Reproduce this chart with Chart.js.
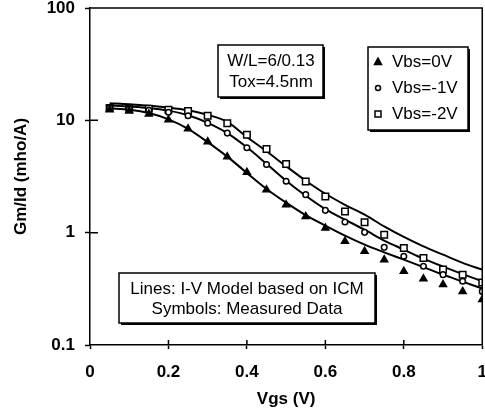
<!DOCTYPE html>
<html>
<head>
<meta charset="utf-8">
<script src="https://cdn.jsdelivr.net/npm/chart.js@4.4.1/dist/chart.umd.min.js"></script>
<style>
  html, body { margin: 0; padding: 0; background: #fff; overflow: hidden; }
  #wrap { width: 500px; height: 412px; }
</style>
</head>
<body>
<div id="wrap"><canvas id="gmChart" width="500" height="412"></canvas></div>
<script>
// Gm/Id vs Vgs for three body biases
const vgs = [0.05, 0.10, 0.15, 0.20, 0.25, 0.30, 0.35, 0.40, 0.45, 0.50,
             0.55, 0.60, 0.65, 0.70, 0.75, 0.80, 0.85, 0.90, 0.95, 1.00];

// measured Gm/Id (mho/A)
const meas0 = [12.4, 12.1, 11.4, 10.1, 8.4, 6.45, 4.73, 3.45, 2.41, 1.77,
               1.39, 1.10, 0.837, 0.682, 0.575, 0.453, 0.388, 0.345, 0.30, 0.254];
const meas1 = [12.9, 12.6, 12.3, 11.8, 11.0, 9.44, 7.7, 5.7, 4.05, 2.87,
               2.18, 1.58, 1.245, 1.006, 0.74, 0.616, 0.502, 0.423, 0.369, 0.30];
const meas2 = [12.9, 12.65, 12.65, 12.4, 12.1, 11.0, 9.44, 7.44, 5.55, 4.08,
               2.86, 2.10, 1.547, 1.235, 0.96, 0.731, 0.596, 0.469, 0.423, 0.36];

// model curves (mho/A)
const model0 = [12.8, 12.4, 11.6, 10.2, 8.4, 6.4, 4.75, 3.4, 2.45, 1.85,
                1.43, 1.154, 0.94, 0.782, 0.668, 0.575, 0.494, 0.423, 0.367, 0.318];
const model1 = [13.6, 13.3, 12.9, 12.2, 11.1, 9.5, 7.7, 5.75, 4.1, 2.9,
                2.13, 1.62, 1.305, 1.063, 0.85, 0.706, 0.587, 0.499, 0.428, 0.369];
const model2 = [14.2, 13.9, 13.5, 13.0, 12.3, 11.2, 9.7, 7.1, 5.3, 3.9,
                2.9, 2.22, 1.77, 1.445, 1.138, 0.916, 0.755, 0.637, 0.538, 0.469];

const xTicks = [0, 0.2, 0.4, 0.6, 0.8, 1];
const yTicks = [0.1, 1, 10, 100];
const seriesNames = ['Vbs=0V', 'Vbs=-1V', 'Vbs=-2V'];
const seriesStyles = ['triangle', 'circle', 'rect'];
const noteDevice = ['W/L=6/0.13', 'Tox=4.5nm'];
const noteKey = ['Lines: I-V Model based on ICM', 'Symbols: Measured Data'];

const FONT = '"Liberation Sans", Arial, Helvetica, sans-serif';

function pts(ys) {
  return vgs.map((x, i) => ({ x: x, y: ys[i] }));
}

function measured(label, ys, style, radius, fill) {
  return {
    label: label,
    data: pts(ys),
    showLine: false,
    pointStyle: style,
    pointRadius: radius,
    pointHoverRadius: radius,
    pointBackgroundColor: fill,
    pointBorderColor: '#000',
    pointBorderWidth: 1.5,
    order: 0
  };
}

function model(ys) {
  return {
    label: 'model',
    data: pts(ys),
    showLine: true,
    borderColor: '#000',
    borderWidth: 2,
    pointRadius: 0,
    pointHoverRadius: 0,
    cubicInterpolationMode: 'monotone',
    order: 1
  };
}

// small marker used in the key box
function drawMarker(ctx, style, x, y) {
  ctx.save();
  ctx.lineWidth = 1.5;
  ctx.strokeStyle = '#000';
  ctx.beginPath();
  if (style === 'triangle') {
    ctx.moveTo(x, y - 4);
    ctx.lineTo(x + 3.5, y + 2.5);
    ctx.lineTo(x - 3.5, y + 2.5);
    ctx.closePath();
    ctx.fillStyle = '#000';
    ctx.fill();
  } else if (style === 'circle') {
    ctx.arc(x, y, 2.5, 0, Math.PI * 2);
    ctx.fillStyle = '#fff';
    ctx.fill();
  } else {
    ctx.rect(x - 3, y - 3, 6, 6);
    ctx.fillStyle = '#fff';
    ctx.fill();
  }
  ctx.stroke();
  ctx.restore();
}

function shadowBox(ctx, x, y, w, h) {
  ctx.fillStyle = '#000';
  ctx.fillRect(x + 2, y + 2, w, h);
  ctx.fillStyle = '#fff';
  ctx.fillRect(x, y, w, h);
  ctx.lineWidth = 1.5;
  ctx.strokeStyle = '#000';
  ctx.strokeRect(x, y, w, h);
}

// top/right frame and the inner half of every tick
const framePlugin = {
  id: 'frame',
  afterDraw(chart) {
    const { ctx, chartArea: a, scales } = chart;
    ctx.save();
    ctx.strokeStyle = '#000';
    ctx.lineWidth = 1.5;
    ctx.beginPath();
    ctx.moveTo(a.left, a.top);
    ctx.lineTo(a.right, a.top);
    ctx.lineTo(a.right, a.bottom);
    ctx.stroke();
    ctx.beginPath();
    yTicks.slice(1, -1).forEach(v => {
      const py = scales.y.getPixelForValue(v);
      ctx.moveTo(a.left, py);
      ctx.lineTo(a.left + 8, py);
    });
    xTicks.slice(1, -1).forEach(v => {
      const px = scales.x.getPixelForValue(v);
      ctx.moveTo(px, a.bottom);
      ctx.lineTo(px, a.bottom - 5);
    });
    ctx.stroke();
    ctx.restore();
  }
};

// annotation boxes and the symbol key
const notesPlugin = {
  id: 'notes',
  afterDraw(chart) {
    const { ctx, chartArea: a } = chart;
    ctx.save();
    ctx.font = '17px ' + FONT;
    ctx.textBaseline = 'middle';

    // device box
    let bx = a.left + 128, by = a.top + 37;
    shadowBox(ctx, bx, by, 105, 52);
    ctx.fillStyle = '#000';
    ctx.textAlign = 'center';
    ctx.fillText(noteDevice[0], bx + 53, by + 16);
    ctx.fillText(noteDevice[1], bx + 53, by + 37);

    // symbol key
    bx = a.left + 278; by = a.top + 39;
    shadowBox(ctx, bx, by, 100, 83);
    ctx.textAlign = 'left';
    seriesNames.forEach((name, i) => {
      const ty = by + 15 + i * 26;
      drawMarker(ctx, seriesStyles[i], bx + 10, ty);
      ctx.fillStyle = '#000';
      ctx.fillText(name, bx + 24, ty);
    });

    // lines / symbols box
    bx = a.left + 29; by = a.top + 265;
    shadowBox(ctx, bx, by, 256, 50);
    ctx.fillStyle = '#000';
    ctx.textAlign = 'center';
    ctx.fillText(noteKey[0], bx + 128, by + 16);
    ctx.fillText(noteKey[1], bx + 128, by + 36);
    ctx.restore();
  }
};

new Chart(document.getElementById('gmChart'), {
  type: 'scatter',
  data: {
    datasets: [
      measured(seriesNames[0], meas0, 'triangle', 4, '#000'),
      measured(seriesNames[1], meas1, 'circle', 2.8, '#fff'),
      measured(seriesNames[2], meas2, 'rect', 4.6, '#fff'),
      model(model0),
      model(model1),
      model(model2)
    ]
  },
  options: {
    responsive: false,
    animation: false,
    layout: { padding: { top: 0, right: 16, left: 0, bottom: 0 } },
    plugins: {
      legend: { display: false },
      tooltip: { enabled: false }
    },
    scales: {
      x: {
        type: 'linear',
        min: 0,
        max: 1,
        afterBuildTicks: s => { s.ticks = xTicks.map(v => ({ value: v })); },
        afterFit: s => { s.height = 67; },
        ticks: {
          color: '#000',
          padding: 13,
          maxRotation: 0,
          font: { family: FONT, size: 17, weight: 'bold' },
          callback: v => String(v)
        },
        grid: { drawOnChartArea: false, drawTicks: true, tickLength: 4, tickColor: '#000', tickWidth: 1.5 },
        border: { color: '#000', width: 1.5 },
        title: {
          display: true,
          text: 'Vgs (V)',
          color: '#000',
          padding: { top: 0, bottom: 2 },
          font: { family: FONT, size: 17, weight: 'bold' }
        }
      },
      y: {
        type: 'logarithmic',
        min: 0.1,
        max: 100,
        afterBuildTicks: s => { s.ticks = yTicks.map(v => ({ value: v })); },
        afterFit: s => {
          s.width = 90;
          s.paddingTop = 8;
          s.paddingBottom = 0;
        },
        ticks: {
          color: '#000',
          padding: 10,
          font: { family: FONT, size: 17, weight: 'bold' },
          callback: v => String(v)
        },
        grid: { drawOnChartArea: false, drawTicks: true, tickLength: 5, tickColor: '#000', tickWidth: 1.5 },
        border: { color: '#000', width: 1.5 },
        title: {
          display: true,
          text: 'Gm/Id (mho/A)',
          color: '#000',
          padding: { top: 11, bottom: 0 },
          font: { family: FONT, size: 17, weight: 'bold' }
        }
      }
    }
  },
  plugins: [framePlugin, notesPlugin]
});
</script>
</body>
</html>
